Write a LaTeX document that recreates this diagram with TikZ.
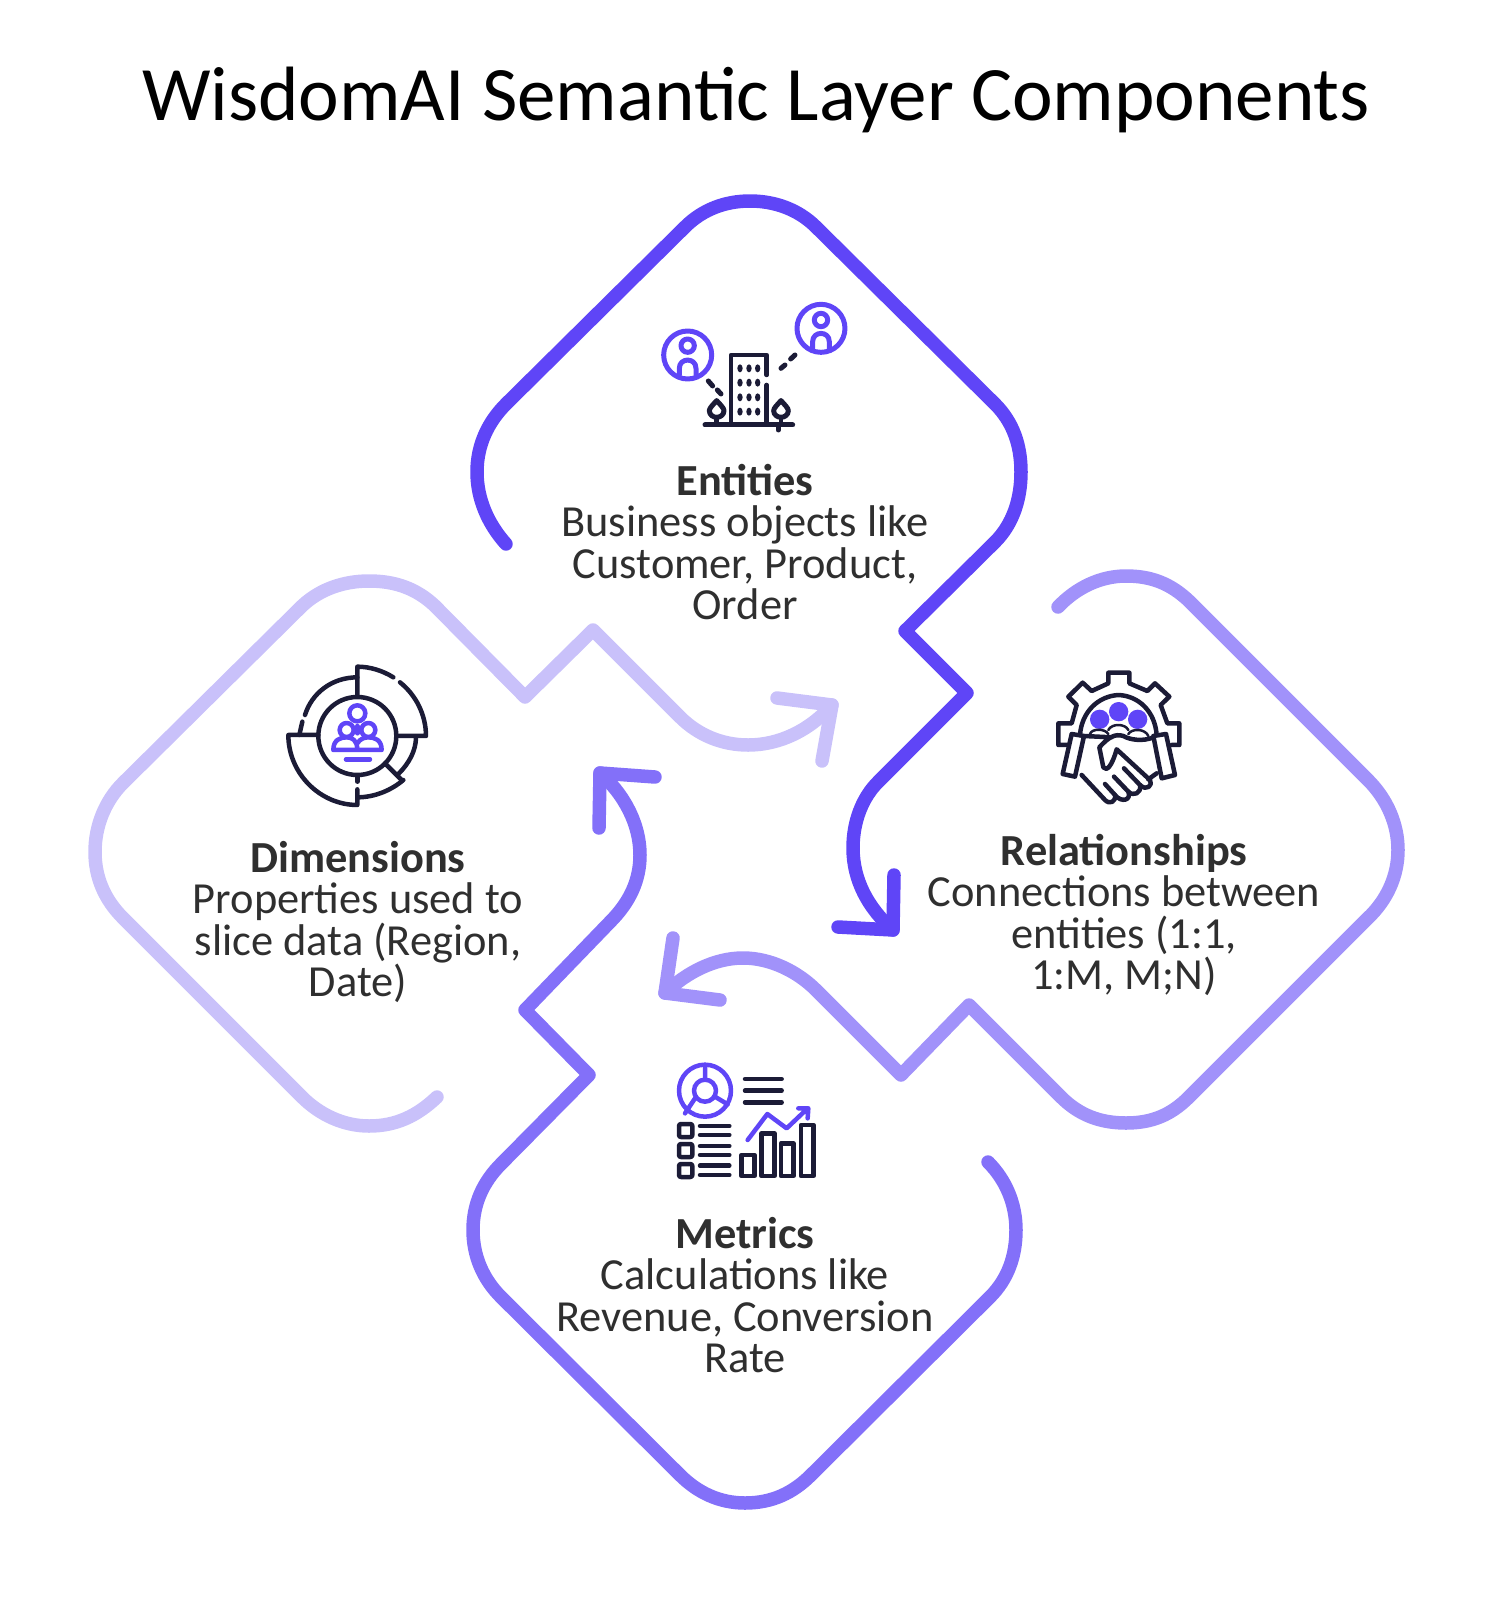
\documentclass[tikz,border=0pt]{standalone}
\usepackage{fontspec}
\setmainfont{Carlito}
\definecolor{entcol}{HTML}{5F45F7}
\definecolor{metcol}{HTML}{8370F9}
\definecolor{relcol}{HTML}{A192FA}
\definecolor{dimcol}{HTML}{C9C1FA}
\definecolor{inkcol}{HTML}{1B1B36}
\definecolor{txtcol}{HTML}{2F2F2F}
\tikzset{band/.style = {line width = 13.5, line cap = round, line join = round}}
\tikzset{ink/.style = {draw = inkcol, line width = 4.5, line cap = round, line join = round}}
\tikzset{blue/.style = {draw = entcol, line width = 4.5, line cap = round, line join = round}}
\tikzset{desc/.style = {align = center, text = txtcol, inner sep = 0, font = \fontsize{44.4}{41.2}\selectfont}}

\begin{document}
\begin{tikzpicture}[x=1pt, y=-1pt]
    \useasboundingbox (0, 0) rectangle (1503, 1600);

    \node [inner sep = 0, font = \fontsize{77}{77}\selectfont] (title) at (756, 100) {WisdomAI Semantic Layer Components};

    % the four bands, lightest at the back
    \draw [band, draw = dimcol] (437, 1097) .. controls (417, 1116) and (396, 1126) .. (369, 1126) .. controls (344, 1126) and (320, 1115) .. (302, 1097) -- (123, 918) .. controls (105, 900) and (95, 878) .. (95, 852) .. controls (95, 826) and (105, 801) .. (123, 783) -- (302, 606) .. controls (320, 589) and (344, 581) .. (369, 581) .. controls (396, 581) and (417, 589) .. (435, 606) -- (525, 697) -- (593, 630) -- (680, 717) .. controls (698, 735) and (722, 745) .. (748, 745) .. controls (780, 745) and (810, 730) .. (832, 705);
    \draw [band, draw = dimcol] (777, 698) -- (832, 705) -- (822, 761);

    \draw [band, draw = relcol] (1058, 607) .. controls (1076, 588) and (1100, 576) .. (1126, 576) .. controls (1152, 576) and (1171, 584) .. (1189, 601) -- (1368, 780) .. controls (1387, 799) and (1398, 824) .. (1398, 850) .. controls (1398, 876) and (1387, 900) .. (1368, 918) -- (1189, 1097) .. controls (1171, 1115) and (1152, 1123) .. (1126, 1123) .. controls (1100, 1123) and (1079, 1115) .. (1061, 1097) -- (969, 1005) -- (901, 1075) -- (816, 990) .. controls (798, 972) and (771, 958) .. (743, 958) .. controls (715, 958) and (687, 972) .. (665, 993);
    \draw [band, draw = relcol] (673, 938) -- (665, 993) -- (720, 1000);

    \draw [band, draw = metcol] (988, 1162) .. controls (1006, 1180) and (1016, 1204) .. (1016, 1230) .. controls (1016, 1256) and (1008, 1279) .. (990, 1297) -- (811, 1475) .. controls (793, 1493) and (772, 1503) .. (745, 1503) .. controls (720, 1503) and (698, 1493) .. (680, 1475) -- (501, 1297) .. controls (483, 1279) and (473, 1256) .. (473, 1230) .. controls (473, 1204) and (483, 1182) .. (501, 1164) -- (589, 1075) -- (525, 1010) -- (610, 922) .. controls (630, 902) and (640, 880) .. (640, 855) .. controls (640, 825) and (625, 795) .. (600, 773);
    \draw [band, draw = metcol] (655, 777) -- (600, 773) -- (599, 828);

    \draw [band, draw = entcol] (506, 544) .. controls (488, 524) and (477, 499) .. (477, 472) .. controls (477, 445) and (488, 422) .. (506, 404) -- (685, 227) .. controls (703, 209) and (726, 201) .. (750, 201) .. controls (774, 201) and (798, 209) .. (816, 227) -- (995, 404) .. controls (1013, 422) and (1021, 445) .. (1021, 472) .. controls (1021, 499) and (1013, 524) .. (995, 542) -- (905, 631) -- (967, 693) -- (878, 782) .. controls (862, 798) and (853, 822) .. (853, 848) .. controls (853, 880) and (868, 908) .. (893, 930);
    \draw [band, draw = entcol] (838, 927) -- (893, 930) -- (894, 875);

    \node [desc] (entities) at (745, 542) {\textbf{Entities}\\Business objects like\\Customer, Product,\\Order};
    \node [desc] (relationships) at (1124, 915) {\textbf{Relationships}\\Connections between\\entities (1:1,\\1:M, M;N)};
    \node [desc] (dimensions) at (358, 922) {\textbf{Dimensions}\\Properties used to\\slice data (Region,\\Date)};
    \node [desc] (metrics) at (745, 1295) {\textbf{Metrics}\\Calculations like\\Revenue, Conversion\\Rate};

    % entities icon
    \begin{scope}[shift={(620, 280)}, x=0.3333pt, y=-0.3333pt]
      \draw [blue, line width = 5] (203, 225) circle [radius = 72];
      \draw [blue, line width = 5] (203, 197) circle [radius = 20];
      \draw [blue, line width = 5] (178, 285) -- (178, 265) .. controls (178, 232) and (228, 232) .. (228, 265) -- (228, 285);
      \draw [blue, line width = 5] (603, 145) circle [radius = 72];
      \draw [blue, line width = 5] (603, 120) circle [radius = 20];
      \draw [blue, line width = 5] (578, 205) -- (578, 185) .. controls (578, 152) and (628, 152) .. (628, 185) -- (628, 205);
      \draw [ink] (333, 430) -- (333, 225) -- (440, 225) -- (440, 285) (440, 315) -- (440, 430);
      \draw [ink, line width = 5] (255, 435) -- (518, 435) (475, 435) -- (475, 450);
      \draw [ink, line width = 5] (265, 303) -- (278, 318) (292, 330) -- (303, 342) (483, 265) -- (495, 255) (512, 237) -- (525, 225);
      \foreach \tx in {290, 483} {
        \draw [ink, line width = 5] (\tx, 362) .. controls (\tx + 12, 375) and (\tx + 22, 385) .. (\tx + 22, 392) .. controls (\tx + 22, 405) and (\tx + 10, 412) .. (\tx, 412) .. controls (\tx - 10, 412) and (\tx - 22, 405) .. (\tx - 22, 392) .. controls (\tx - 22, 385) and (\tx - 12, 375) .. (\tx, 362);
        \draw [ink] (\tx, 412) -- (\tx, 432);
      }
      \foreach \wx in {360, 387, 413}
        \foreach \wy in {265, 308, 352, 395}
          \fill [inkcol] (\wx, \wy) ellipse [x radius = 8, y radius = 12];
    \end{scope}

    % relationships icon
    \begin{scope}[shift={(1040, 660)}, x=0.3333pt, y=-0.3333pt]
      \fill [entcol] (179, 178) circle [radius = 29];
      \fill [entcol] (236, 155) circle [radius = 29];
      \fill [entcol] (293, 178) circle [radius = 29];
      \draw [ink] (85, 255) -- (55, 255) -- (55, 190) -- (95, 190) -- (110, 135) -- (85, 110) -- (128, 68) -- (155, 93) -- (205, 70) -- (205, 38) -- (268, 38) -- (268, 70) -- (322, 93) -- (345, 70) -- (388, 110) -- (362, 135) -- (382, 190) -- (418, 190) -- (418, 255) -- (395, 255);
      \draw [ink] (120, 225) .. controls (125, 155) and (175, 108) .. (236, 105) .. controls (297, 108) and (345, 155) .. (350, 225);
      \draw [ink] (95, 222) -- (132, 228) -- (105, 350) -- (68, 342) -- cycle;
      \draw [ink] (340, 228) -- (378, 222) -- (405, 345) -- (365, 355) -- cycle;
      \draw [ink, line width = 2.5] (150, 222) .. controls (155, 205) and (195, 205) .. (205, 222) (205, 210) .. controls (215, 190) and (255, 190) .. (265, 210) (265, 222) .. controls (275, 205) and (315, 205) .. (325, 228);
      \draw [ink] (132, 228) -- (215, 232) (340, 232) .. controls (310, 245) and (270, 240) .. (250, 228) .. controls (225, 220) and (205, 232) .. (178, 262) -- (190, 322) .. controls (200, 335) and (215, 320) .. (230, 268) -- (330, 360) .. controls (340, 375) and (320, 395) .. (300, 375) -- (252, 325);
      \draw [ink] (125, 345) -- (195, 420) .. controls (210, 435) and (228, 425) .. (225, 405) -- (195, 372);
      \draw [ink] (225, 405) .. controls (245, 430) and (275, 420) .. (265, 395) -- (222, 350);
      \draw [ink] (265, 395) .. controls (280, 410) and (305, 400) .. (300, 375);
      \draw [ink] (350, 340) -- (325, 358);
    \end{scope}

    % dimensions icon
    \begin{scope}[shift={(270, 650)}, x=0.3333pt, y=-0.3333pt]
      \def\cxy{(262, 258)}
      \draw [ink] \cxy circle [radius = 117];
      \draw [ink] (262, 138) -- (262, 50) .. controls (300, 50) and (338, 62) .. (370, 82);
      \draw [ink] (390, 97) .. controls (438, 135) and (468, 195) .. (468, 258) -- (380, 258);
      \draw [ink] (262, 82) .. controls (185, 82) and (125, 130) .. (105, 195);
      \draw [ink] (97, 215) -- (88, 255);
      \draw [ink] (145, 255) -- (55, 255) .. controls (55, 370) and (150, 465) .. (262, 465) -- (262, 418);
      \draw [ink] (262, 380) -- (262, 395);
      \draw [ink] (262, 442) .. controls (315, 442) and (365, 420) .. (400, 390);
      \draw [ink] (345, 340) -- (395, 390);
      \draw [ink] (385, 372) .. controls (418, 340) and (438, 300) .. (438, 262);
      \draw [blue] (262, 190) circle [radius = 24];
      \draw [blue] (230, 240) circle [radius = 21];
      \draw [blue] (295, 240) circle [radius = 21];
      \draw [blue] (262, 228) -- (262, 250);
      \draw [blue] (190, 300) .. controls (190, 270) and (210, 262) .. (230, 262) .. controls (248, 262) and (262, 272) .. (262, 300) (262, 280) .. controls (270, 266) and (285, 262) .. (295, 262) .. controls (315, 262) and (335, 270) .. (335, 300) -- (190, 300);
      \draw [blue] (228, 328) -- (300, 328);
    \end{scope}

    % metrics icon
    \begin{scope}[shift={(660, 1050)}, x=0.3333pt, y=-0.3333pt]
      \draw [blue] (135, 122) circle [radius = 78];
      \draw [blue] (135, 122) circle [radius = 33];
      \draw [blue] (135, 45) -- (135, 88) (165, 140) -- (203, 163) (105, 145) -- (75, 190);
      \foreach \ly in {87, 122, 157}
        \draw [ink] (255, \ly) -- (365, \ly);
      \foreach \by in {222, 282, 342}
        \draw [ink, rounded corners = 2] (57, \by) rectangle (97, \by + 39);
      \foreach \ly in {228, 255, 288, 315, 347, 375}
        \draw [ink] (120, \ly) -- (208, \ly);
      \draw [ink] (245, 315) rectangle (283, 378);
      \draw [ink] (305, 250) rectangle (343, 378);
      \draw [ink] (363, 280) rectangle (400, 378);
      \draw [ink] (423, 225) rectangle (460, 378);
      \draw [blue] (263, 270) -- (322, 192) -- (380, 235) -- (440, 178) (415, 175) -- (445, 175) -- (443, 205);
    \end{scope}
  \end{tikzpicture}
\end{document}
